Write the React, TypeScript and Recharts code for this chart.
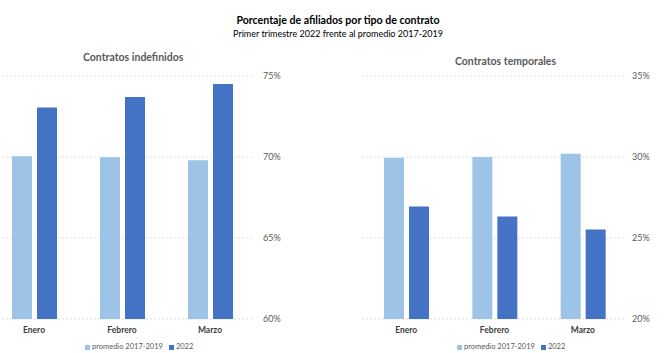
import React from 'react';
import { BarChart, Bar, XAxis, YAxis, CartesianGrid } from 'recharts';

const categories = ['Enero', 'Febrero', 'Marzo'];
const indefPromedio = [70.05, 69.98, 69.8];
const indef2022 = [73.05, 73.7, 74.5];
const tempPromedio = [29.96, 30.0, 30.2];
const temp2022 = [26.95, 26.33, 25.52];
const indefTicks = [60, 65, 70, 75];
const tempTicks = [20, 25, 30, 35];
const seriesNames = ['promedio 2017-2019', '2022'];

const LIGHT = '#9DC3E6';
const DARK = '#4472C4';
const FONT = 'Lato, "Open Sans", sans-serif';

const indefData = categories.map((c, i) => ({ cat: c, prom: indefPromedio[i], y2022: indef2022[i] }));
const tempData = categories.map((c, i) => ({ cat: c, prom: tempPromedio[i], y2022: temp2022[i] }));

const pct = (v: number) => `${v}%`;

function Panel({ data, domain, ticks, left, width, tickSize }: any) {
  return (
    <div style={{ position: 'absolute', left, top: 0 }}>
      <BarChart
        width={width}
        height={353}
        data={data}
        margin={{ top: 76, right: 0, left: 0, bottom: 14 }}
        barSize={20}
        barGap={5}
      >
        <CartesianGrid vertical={false} stroke="#E0E0E0" strokeDasharray="2 2" />
        <XAxis
          dataKey="cat"
          height={20}
          axisLine={false}
          tickLine={false}
          tick={{ fontSize: 8.5, fontWeight: 700, fill: '#404040', fontFamily: FONT }}
        />
        <YAxis
          orientation="right"
          width={46}
          domain={domain}
          ticks={ticks}
          allowDataOverflow
          axisLine={false}
          tickLine={false}
          tickSize={tickSize}
          tickMargin={2}
          tickFormatter={pct}
          tick={{ fontSize: 9, fill: '#595959', fontFamily: FONT, textAnchor: 'start' }}
        />
        <Bar dataKey="prom" name={seriesNames[0]} fill={LIGHT} isAnimationActive={false} />
        <Bar dataKey="y2022" name={seriesNames[1]} fill={DARK} isAnimationActive={false} />
      </BarChart>
    </div>
  );
}

function LegendBox({ left }: { left: number }) {
  return (
    <div
      style={{
        position: 'absolute',
        left,
        top: 342,
        display: 'flex',
        alignItems: 'center',
        fontSize: 7.5,
        color: '#595959',
        fontFamily: FONT,
        whiteSpace: 'nowrap',
        lineHeight: '10px',
      }}
    >
      <span style={{ display: 'inline-block', width: 5, height: 5, background: LIGHT, marginRight: 2 }} />
      <span style={{ marginRight: 6 }}>{seriesNames[0]}</span>
      <span style={{ display: 'inline-block', width: 5, height: 5, background: DARK, marginRight: 2 }} />
      <span>{seriesNames[1]}</span>
    </div>
  );
}

export default function App() {
  return (
    <div
      style={{
        position: 'absolute',
        left: 0,
        top: 0,
        width: 670,
        height: 353,
        background: '#fff',
        overflow: 'hidden',
        fontFamily: FONT,
      }}
    >
      <div
        style={{
          position: 'absolute',
          left: 0,
          width: 676,
          top: 14,
          textAlign: 'center',
          fontSize: 10.6,
          fontWeight: 700,
          color: '#000',
          lineHeight: '13px',
        }}
      >
        Porcentaje de afiliados por tipo de contrato
      </div>
      <div
        style={{
          position: 'absolute',
          left: 0,
          width: 676,
          top: 28,
          textAlign: 'center',
          fontSize: 9,
          color: '#000',
          lineHeight: '12px',
        }}
      >
        Primer trimestre 2022 frente al promedio 2017-2019
      </div>
      <div
        style={{
          position: 'absolute',
          left: 83,
          top: 50,
          fontSize: 10.5,
          fontWeight: 700,
          color: '#595959',
          lineHeight: '14px',
        }}
      >
        Contratos indefinidos
      </div>
      <div
        style={{
          position: 'absolute',
          left: 455,
          top: 54,
          fontSize: 10.5,
          fontWeight: 700,
          color: '#595959',
          lineHeight: '14px',
        }}
      >
        Contratos temporales
      </div>
      <Panel data={indefData} domain={[60, 75]} ticks={indefTicks} left={-10} width={310} tickSize={7} />
      <Panel data={tempData} domain={[20, 35]} ticks={tempTicks} left={362} width={311} tickSize={3} />
      <LegendBox left={85} />
      <LegendBox left={457} />
    </div>
  );
}
